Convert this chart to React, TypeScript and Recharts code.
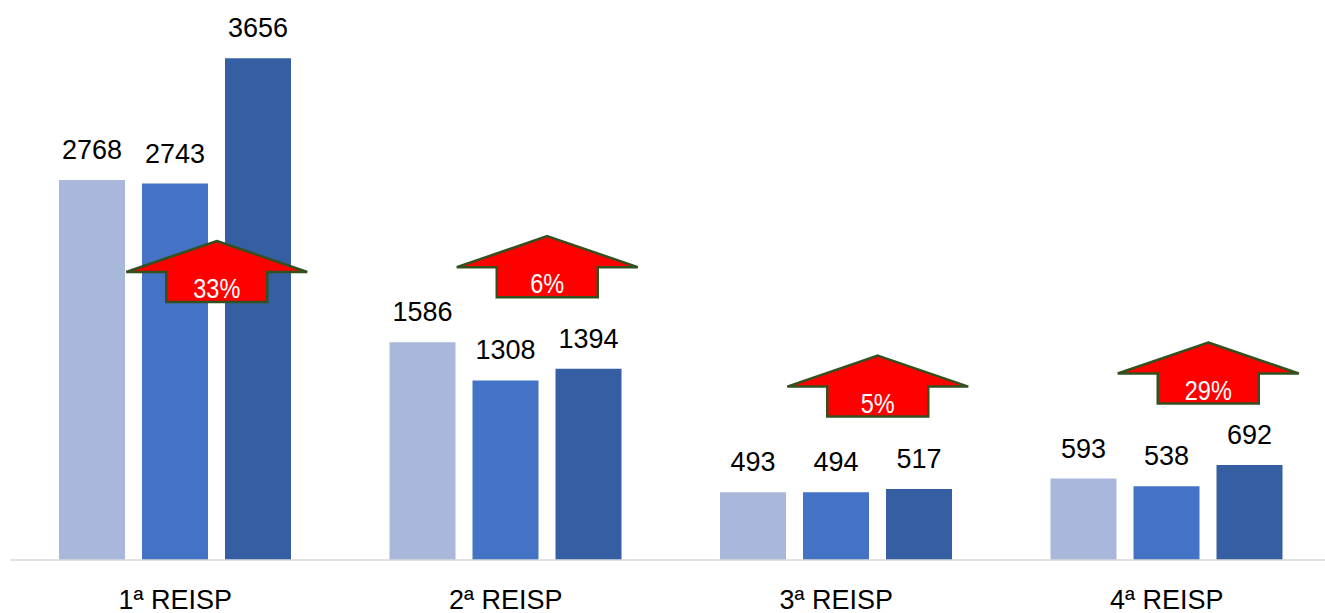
import React from 'react';
import { BarChart, Bar, XAxis, YAxis, LabelList, ReferenceDot } from 'recharts';

// --- Data ---
const categories = ['1ª REISP', '2ª REISP', '3ª REISP', '4ª REISP'];
const serie1 = [2768, 1586, 493, 593];
const serie2 = [2743, 1308, 494, 538];
const serie3 = [3656, 1394, 517, 692];

// variação da 2ª para a 3ª barra (setas)
const arrowLabels = ['33%', '6%', '5%', '29%'];
// nível (em unidades do eixo) da base de cada seta
const arrowLevel = [1880, 1915, 1045, 1140];

const COLORS = ['#A9B7DA', '#4472C4', '#365FA3'];

const data = categories.map((name, i) => ({
  name,
  s1: serie1[i],
  s2: serie2[i],
  s3: serie3[i],
}));

const BAR_SIZE = 66;
const BAR_GAP = 17;
const FONT = '"Liberation Sans", Arial, sans-serif';

const CategoryTick = (props: any) => {
  const { x, y, payload } = props;
  return (
    <text x={x} y={y + 49} textAnchor="middle" fill="#000" fontSize={27} fontFamily={FONT}>
      {payload.value}
    </text>
  );
};

const makeArrow = (label: string) => (props: any) => {
  const { cx, cy } = props;
  if (cx == null || cy == null) return <g />;
  // seta centrada entre a 2ª e a 3ª barra
  const c = cx + (BAR_SIZE + BAR_GAP) / 2;
  const b = cy;
  const pts = [
    [c, b - 61],
    [c + 90.5, b - 30],
    [c + 50.5, b - 30],
    [c + 50.5, b],
    [c - 50.5, b],
    [c - 50.5, b - 30],
    [c - 90.5, b - 30],
  ]
    .map((p) => p.join(','))
    .join(' ');
  return (
    <g>
      <polygon points={pts} fill="#FF0000" stroke="#33501F" strokeWidth={2.5} strokeLinejoin="miter" />
      {/* fonte estreita simulada */}
      <text
        x={0}
        y={0}
        transform={`translate(${c},${b - 4}) scale(0.84,1)`}
        textAnchor="middle"
        fill="#fff"
        fontSize={28}
        fontFamily={FONT}
      >
        {label}
      </text>
    </g>
  );
};

const App: React.FC = () => {
  return (
    <div style={{ position: 'absolute', left: 0, top: 0, width: 1325, height: 613, overflow: 'hidden', background: '#fff' }}>
      <BarChart
        width={1342}
        height={613}
        data={data}
        margin={{ top: 11, right: 10, left: 10, bottom: 0 }}
        barSize={BAR_SIZE}
        barGap={BAR_GAP}
      >
        <XAxis
          dataKey="name"
          height={53}
          axisLine={{ stroke: '#D9D9D9', strokeWidth: 1.5 }}
          tickLine={false}
          tickSize={0}
          tickMargin={0}
          tick={<CategoryTick />}
          interval={0}
        />
        <YAxis hide domain={[0, 4000]} />
        <Bar dataKey="s1" name="Período 1" fill={COLORS[0]} isAnimationActive={false}>
          <LabelList dataKey="s1" position="top" offset={21} fill="#000" fontSize={27} fontFamily={FONT} />
        </Bar>
        <Bar dataKey="s2" name="Período 2" fill={COLORS[1]} isAnimationActive={false}>
          <LabelList dataKey="s2" position="top" offset={21} fill="#000" fontSize={27} fontFamily={FONT} />
        </Bar>
        <Bar dataKey="s3" name="Período 3" fill={COLORS[2]} isAnimationActive={false}>
          <LabelList dataKey="s3" position="top" offset={21} fill="#000" fontSize={27} fontFamily={FONT} />
        </Bar>
        {categories.map((cat, i) => (
          <ReferenceDot
            key={cat}
            x={cat}
            y={arrowLevel[i]}
            r={1}
            ifOverflow="visible"
            shape={makeArrow(arrowLabels[i])}
          />
        ))}
      </BarChart>
    </div>
  );
};

export default App;
